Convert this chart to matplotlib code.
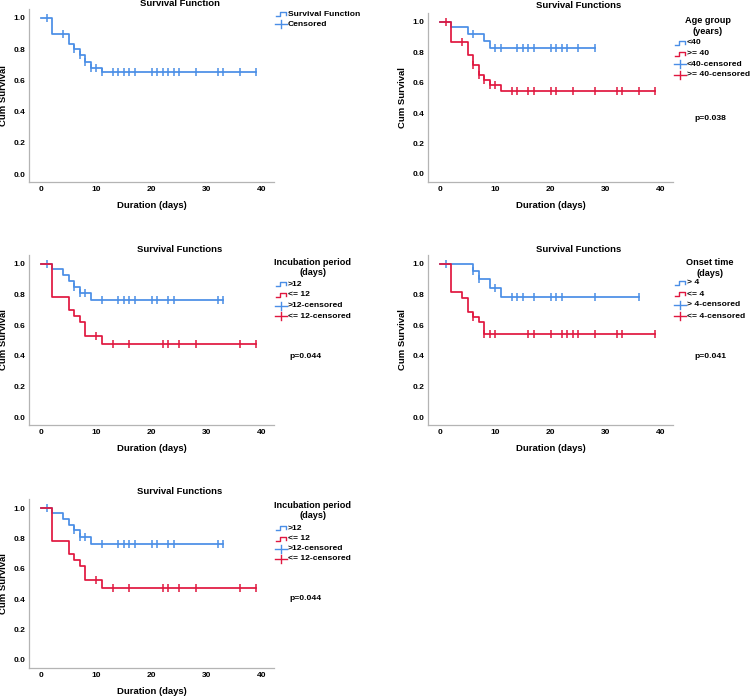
import numpy as np
import matplotlib.pyplot as plt

plt.rcParams['font.family'] = ['Liberation Sans', 'DejaVu Sans']
plt.rcParams['font.weight'] = 'bold'

# Colours (SPSS-like)
BLUE = '#4a8ee6'
RED = '#e0173f'
SPINE = '#b4b4b4'

W, H = 750, 697

# Overall survival
all_drops = [2, 5, 6, 7, 8, 9, 11]
all_surv = [0.90, 0.835, 0.80, 0.76, 0.72, 0.677, 0.655]
all_cens = [1, 4, 6, 7, 8, 9, 10, 11, 13, 14, 15, 16, 17, 20, 21, 22, 23, 24, 25, 28, 32, 33, 36, 39]

# Age group
age_lt40_drops = [2, 5, 8, 9]
age_lt40_surv = [0.967, 0.923, 0.872, 0.826]
age_lt40_cens = [6, 10, 11, 14, 15, 16, 17, 20, 21, 22, 23, 25, 28]
age_ge40_drops = [2, 5, 6, 7, 8, 9, 11]
age_ge40_surv = [0.868, 0.78, 0.718, 0.654, 0.619, 0.586, 0.546]
age_ge40_cens = [1, 4, 6, 7, 8, 9, 10, 13, 14, 16, 17, 20, 21, 24, 28, 32, 33, 36, 39]

# Incubation period
inc_gt12_drops = [2, 4, 5, 6, 7, 9]
inc_gt12_surv = [0.967, 0.928, 0.889, 0.852, 0.81, 0.762]
inc_gt12_cens = [1, 6, 7, 8, 11, 14, 15, 16, 17, 20, 21, 23, 24, 32, 33]
inc_le12_drops = [2, 5, 6, 7, 8, 11]
inc_le12_surv = [0.786, 0.70, 0.657, 0.618, 0.528, 0.476]
inc_le12_cens = [10, 13, 16, 22, 23, 25, 28, 36, 39]

# Onset time
on_gt4_drops = [6, 7, 9, 11]
on_gt4_surv = [0.952, 0.90, 0.845, 0.784]
on_gt4_cens = [1, 6, 7, 10, 13, 14, 15, 17, 20, 21, 22, 28, 36]
on_le4_drops = [2, 4, 5, 6, 7, 8]
on_le4_surv = [0.814, 0.777, 0.686, 0.653, 0.618, 0.54]
on_le4_cens = [6, 8, 9, 10, 16, 17, 20, 22, 23, 24, 25, 28, 32, 33, 39]

x_ticks = [0, 10, 20, 30, 40]
y_ticks = [0.0, 0.2, 0.4, 0.6, 0.8, 1.0]

XLIM = (-2.1, 42.2)
YLIM = (-0.05, 1.06)


def km_line(drops, surv, cens):
    end = max(cens[-1], drops[-1])
    x = [0] + list(drops) + [end]
    y = [1.0] + list(surv) + [surv[-1]]
    idx = np.searchsorted(drops, cens, side='right') - 1
    cy = np.where(idx < 0, 1.0, np.array(surv)[np.clip(idx, 0, None)])
    return x, y, cy


def make_axes(fig, x0_px, y0_px, y1_px):
    # x0_px: pixel of day 0, y0_px / y1_px: pixel rows of survival 0.0 / 1.0
    sx = 5.525
    sy = y0_px - y1_px
    left = x0_px + XLIM[0] * sx
    right = x0_px + XLIM[1] * sx
    bottom = y0_px - YLIM[0] * sy
    top = y0_px - YLIM[1] * sy
    ax = fig.add_axes([left / W, 1 - bottom / H, (right - left) / W, (bottom - top) / H])
    ax.set_xlim(*XLIM)
    ax.set_ylim(*YLIM)
    for s in ['top', 'right']:
        ax.spines[s].set_visible(False)
    for s in ['left', 'bottom']:
        ax.spines[s].set_color(SPINE)
        ax.spines[s].set_linewidth(0.9)
    ax.set_xticks(x_ticks)
    ax.set_yticks(y_ticks)
    ax.set_yticklabels([f'{v:.1f}' for v in y_ticks])
    ax.tick_params(length=0, labelsize=6.0, pad=3)
    for lab in ax.get_xticklabels() + ax.get_yticklabels():
        lab.set_fontweight('bold')
    return ax, (left, right, top, bottom)


def draw_series(ax, drops, surv, cens, color):
    x, y, cy = km_line(drops, surv, cens)
    ax.step(x, y, where='post', color=color, lw=1.25)
    ax.plot(cens, cy, ls='none', marker='|', ms=5.5, mew=1.1, color=color)


fig = plt.figure(figsize=(W / 100, H / 100), dpi=100)

panels = [
    dict(x0=41, y0=174, y1=18, title='Survival Function', tx=180, ty=4,
         series=[(all_drops, all_surv, all_cens, BLUE)]),
    dict(x0=440, y0=174, y1=22, title='Survival Functions', tx=579, ty=6,
         series=[(age_lt40_drops, age_lt40_surv, age_lt40_cens, BLUE),
                 (age_ge40_drops, age_ge40_surv, age_ge40_cens, RED)]),
    dict(x0=41, y0=417, y1=264, title='Survival Functions', tx=180, ty=249,
         series=[(inc_gt12_drops, inc_gt12_surv, inc_gt12_cens, BLUE),
                 (inc_le12_drops, inc_le12_surv, inc_le12_cens, RED)]),
    dict(x0=440, y0=417, y1=264, title='Survival Functions', tx=579, ty=249,
         series=[(on_gt4_drops, on_gt4_surv, on_gt4_cens, BLUE),
                 (on_le4_drops, on_le4_surv, on_le4_cens, RED)]),
    dict(x0=41, y0=660, y1=508, title='Survival Functions', tx=180, ty=492,
         series=[(inc_gt12_drops, inc_gt12_surv, inc_gt12_cens, BLUE),
                 (inc_le12_drops, inc_le12_surv, inc_le12_cens, RED)]),
]

boxes = []
for p in panels:
    ax, box = make_axes(fig, p['x0'], p['y0'], p['y1'])
    for drops, surv, cens, color in p['series']:
        draw_series(ax, drops, surv, cens, color)
    boxes.append(box)

# overlay in pixel coordinates for titles, labels and legends
ov = fig.add_axes([0, 0, 1, 1])
ov.set_xlim(0, W)
ov.set_ylim(H, 0)
ov.axis('off')

for p, (left, right, top, bottom) in zip(panels, boxes):
    ov.text(p['tx'], p['ty'], p['title'], ha='center', va='center', fontsize=6.8, fontweight='bold')
    ov.text((left + right) / 2, bottom + 24, 'Duration (days)', ha='center', va='center',
            fontsize=6.8, fontweight='bold')
    ov.text(left - 26, (top + bottom) / 2, 'Cum Survival', ha='center', va='center',
            rotation=90, fontsize=6.8, fontweight='bold')


def step_glyph(x0, y, color):
    ov.plot([x0, x0 + 4, x0 + 4, x0 + 10, x0 + 10], [y + 2, y + 2, y - 2, y - 2, y + 1],
            color=color, lw=1.0)


def cens_glyph(x0, y, color):
    ov.plot([x0 - 1, x0 + 11], [y, y], color=color, lw=1.0)
    ov.plot([x0 + 5, x0 + 5], [y - 4, y + 4], color=color, lw=1.0)


def legend(x0, tcx, ty, title, labels, ys, kinds, colors):
    if title:
        ov.text(tcx, ty, title, ha='center', va='center', fontsize=6.6,
                fontweight='bold', linespacing=1.15)
    for lab, y, kind, c in zip(labels, ys, kinds, colors):
        if kind == 'step':
            step_glyph(x0, y, c)
        else:
            cens_glyph(x0, y, c)
        ov.text(x0 + 12, y, lab, ha='left', va='center', fontsize=6.1, fontweight='bold')


legend(276, 0, 0, None, ['Survival Function', 'Censored'], [14, 24],
       ['step', 'cens'], [BLUE, BLUE])

kinds4 = ['step', 'step', 'cens', 'cens']
cols4 = [BLUE, RED, BLUE, RED]

legend(675, 708, 26, 'Age group\n(years)', ['<40', '>= 40', '<40-censored', '>= 40-censored'],
       [43, 53.5, 64, 74.5], kinds4, cols4)
ov.text(710, 118, 'p=0.038', ha='center', va='center', fontsize=6.1, fontweight='bold')

legend(276, 313, 267.5, 'Incubation period\n(days)', ['>12', '<= 12', '>12-censored', '<= 12-censored'],
       [284, 294.5, 305.5, 316], kinds4, cols4)
ov.text(305, 357, 'p=0.044', ha='center', va='center', fontsize=6.1, fontweight='bold')

legend(675, 710, 268, 'Onset time\n(days)', ['> 4', '<= 4', '> 4-censored', '<= 4-censored'],
       [283, 294, 305, 316], kinds4, cols4)
ov.text(710, 357, 'p=0.041', ha='center', va='center', fontsize=6.1, fontweight='bold')

legend(276, 313, 510.5, 'Incubation period\n(days)', ['>12', '<= 12', '>12-censored', '<= 12-censored'],
       [528, 538.5, 549, 559], kinds4, cols4)
ov.text(305, 599, 'p=0.044', ha='center', va='center', fontsize=6.1, fontweight='bold')

fig.savefig('out.png', dpi=100, facecolor='white')
